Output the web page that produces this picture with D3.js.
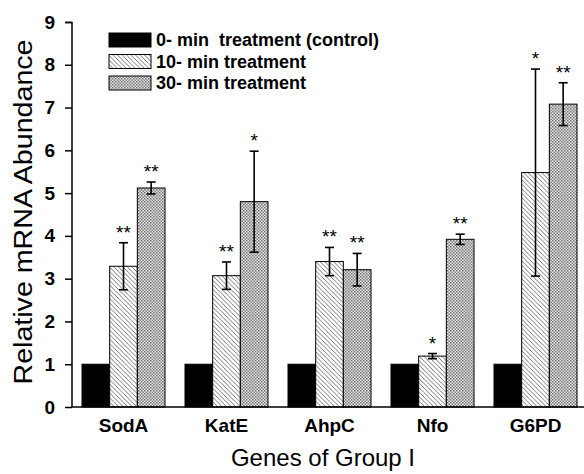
<!DOCTYPE html>
<html lang="en">
<head>
<meta charset="UTF-8">
<title>mRNA abundance</title>
<style>
  body{margin:0;background:#fff;}
  svg{display:block;font-family:"Liberation Sans",Arial,sans-serif;}
</style>
</head>
<body>
<svg width="584" height="474"></svg>
<script src="https://d3js.org/d3.v7.min.js"></script>
<script>
// data
var genes = ["SodA", "KatE", "AhpC", "Nfo", "G6PD"];
var seriesNames = ["0- min  treatment (control)", "10- min treatment", "30- min treatment"];
var ctrl = [1, 1, 1, 1, 1];
var min10 = [3.29, 3.07, 3.4, 1.19, 5.48];
var min30 = [5.12, 4.8, 3.21, 3.92, 7.08];
var err10 = [0.55, 0.32, 0.33, 0.06, 2.42];
var err30 = [0.14, 1.18, 0.38, 0.12, 0.5];
var star10 = ["**", "**", "**", "*", "*"];
var star30 = ["**", "*", "**", "**", "**"];
var yTicks = [0, 1, 2, 3, 4, 5, 6, 7, 8, 9];

var svg = d3.select("svg");
var defs = svg.append("defs");

// diagonal hatch for 10-min
var p1 = defs.append("pattern").attr("id", "hatch").attr("patternUnits", "userSpaceOnUse")
  .attr("width", 4.5).attr("height", 4.5);
p1.append("rect").attr("width", 4.5).attr("height", 4.5).attr("fill", "#fff");
p1.append("path").attr("d", "M-1,-1 L5.5,5.5 M-1,3.5 L1,5.5 M3.5,-1 L5.5,1")
  .attr("stroke", "#666").attr("stroke-width", 0.9);

// fine cross-hatch for 30-min
var p2 = defs.append("pattern").attr("id", "cross").attr("patternUnits", "userSpaceOnUse")
  .attr("width", 3).attr("height", 3);
p2.append("rect").attr("width", 3).attr("height", 3).attr("fill", "#e6e6e6");
p2.append("rect").attr("width", 1.5).attr("height", 1.5).attr("fill", "#707070");
p2.append("rect").attr("x", 1.5).attr("y", 1.5).attr("width", 1.5).attr("height", 1.5).attr("fill", "#808080");

var fills = ["#000", "url(#hatch)", "url(#cross)"];

var x = d3.scaleBand().domain(genes).range([72, 587]);
var xs = d3.scaleBand().domain([0, 1, 2]).range([10, 93]);
var y = d3.scaleLinear().domain([0, 9]).range([407, 22]);

var rows = genes.map(function(g, i){
  return [
    {g: g, s: 0, v: ctrl[i]},
    {g: g, s: 1, v: min10[i], e: err10[i], star: star10[i]},
    {g: g, s: 2, v: min30[i], e: err30[i], star: star30[i]}
  ];
});
var flat = [].concat.apply([], rows);

// bars
svg.append("g").selectAll("rect").data(flat).enter().append("rect")
  .attr("x", function(d){ return x(d.g) + xs(d.s); })
  .attr("y", function(d){ return y(d.v); })
  .attr("width", xs.bandwidth())
  .attr("height", function(d){ return y(0) - y(d.v); })
  .attr("fill", function(d){ return fills[d.s]; })
  .attr("stroke", "#000").attr("stroke-width", 1);

// error bars
var withErr = flat.filter(function(d){ return d.e !== undefined; });
var eg = svg.append("g").attr("stroke", "#000").attr("stroke-width", 1.6);
withErr.forEach(function(d){
  var cx = x(d.g) + xs(d.s) + xs.bandwidth() / 2;
  eg.append("line").attr("x1", cx).attr("x2", cx).attr("y1", y(d.v + d.e)).attr("y2", y(d.v - d.e));
  eg.append("line").attr("x1", cx - 4.5).attr("x2", cx + 4.5).attr("y1", y(d.v + d.e)).attr("y2", y(d.v + d.e));
  eg.append("line").attr("x1", cx - 4.5).attr("x2", cx + 4.5).attr("y1", y(d.v - d.e)).attr("y2", y(d.v - d.e));
});

// significance stars
svg.append("g").selectAll("text").data(withErr).enter().append("text")
  .attr("x", function(d){ return x(d.g) + xs(d.s) + xs.bandwidth() / 2; })
  .attr("y", function(d){ return y(d.v + d.e) - 4; })
  .attr("text-anchor", "middle").attr("font-size", 19)
  .text(function(d){ return d.star; });

// y axis
var yAxis = d3.axisLeft(y).tickValues(yTicks).tickSize(7).tickPadding(10).tickFormat(d3.format("d"));
var ya = svg.append("g").attr("transform", "translate(72,0)").call(yAxis);
ya.selectAll("path,line").attr("stroke", "#000").attr("stroke-width", 1.5);
ya.select(".domain").attr("d", "M-7,22.5H0V407");
ya.selectAll("text").attr("font-size", 19).attr("font-weight", "bold")
  .attr("font-family", "Liberation Sans, Arial, sans-serif").attr("fill", "#000");

// x axis
var xAxis = d3.axisBottom(x).tickSize(0).tickPadding(11.5);
var xa = svg.append("g").attr("transform", "translate(0,407)").call(xAxis);
xa.select(".domain").attr("d", "M72,0H584").attr("stroke", "#000").attr("stroke-width", 1.5);
xa.selectAll("text")
  .attr("font-size", 19).attr("font-weight", "bold")
  .attr("font-family", "Liberation Sans, Arial, sans-serif").attr("fill", "#000");

// axis titles
svg.append("text").attr("transform", "translate(32,212) rotate(-90)")
  .attr("text-anchor", "middle").attr("font-size", 26)
  .attr("textLength", 345).attr("lengthAdjust", "spacingAndGlyphs")
  .text("Relative mRNA Abundance");
svg.append("text").attr("x", 323).attr("y", 466)
  .attr("text-anchor", "middle").attr("font-size", 24).text("Genes of Group I");

// legend
var lg = svg.append("g").attr("transform", "translate(109,33)");
seriesNames.forEach(function(n, i){
  lg.append("rect").attr("x", 0).attr("y", i * 21.5).attr("width", 42).attr("height", 14)
    .attr("fill", fills[i]).attr("stroke", "#000").attr("stroke-width", 1);
  lg.append("text").attr("x", 47).attr("y", i * 21.5 + 13).attr("font-size", 18)
    .attr("font-weight", "bold").style("white-space", "pre").text(n);
});
</script>
</body>
</html>
